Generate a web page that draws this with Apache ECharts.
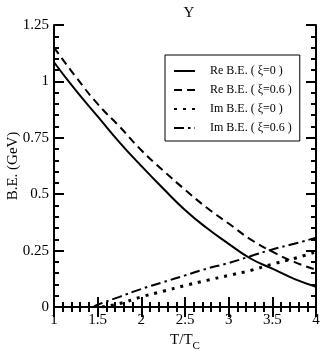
<!DOCTYPE html>
<html>
<head>
<meta charset="utf-8">
<script src="https://cdn.jsdelivr.net/npm/echarts@6/dist/echarts.min.js"></script>
<style>
  html, body { margin: 0; padding: 0; background: #fff; }
  #chart { width: 322px; height: 354px; }
</style>
</head>
<body>
<div id="chart"></div>
<script>
// --- DATA ---
const xTicks = [1, 1.5, 2, 2.5, 3, 3.5, 4];
const yTicks = [0, 0.25, 0.5, 0.75, 1, 1.25];

const reXi0 = [[1.0, 1.085], [1.25, 0.96], [1.5, 0.845], [1.75, 0.73], [2.0, 0.625], [2.25, 0.525],
  [2.5, 0.43], [2.75, 0.35], [3.0, 0.28], [3.25, 0.215], [3.5, 0.17], [3.75, 0.125], [4.0, 0.09]];
const reXi06 = [[1.0, 1.15], [1.25, 1.02], [1.5, 0.90], [1.75, 0.80], [2.0, 0.695], [2.25, 0.605],
  [2.5, 0.52], [2.75, 0.44], [3.0, 0.37], [3.25, 0.30], [3.5, 0.245], [3.75, 0.20], [4.0, 0.165]];
const imXi0 = [[1.55, 0.0], [1.75, 0.015], [2.0, 0.045], [2.25, 0.07], [2.5, 0.095], [2.75, 0.118],
  [3.0, 0.14], [3.25, 0.162], [3.5, 0.19], [3.75, 0.215], [4.0, 0.245]];
const imXi06 = [[1.45, 0.0], [1.5, 0.01], [1.75, 0.045], [2.0, 0.08], [2.25, 0.11], [2.5, 0.14],
  [2.75, 0.17], [3.0, 0.195], [3.25, 0.225], [3.5, 0.255], [3.75, 0.28], [4.0, 0.307]];

const seriesNames = ['Re B.E. ( ξ=0 )', 'Re B.E. ( ξ=0.6 )', 'Im B.E. ( ξ=0 )', 'Im B.E. ( ξ=0.6 )'];

// --- STYLE ---
const FONT = "'Liberation Serif', serif";
const INK = '#000';

const tickStyle = {
  axisLine: { lineStyle: { color: INK, width: 2 } },
  axisTick: { inside: true, length: 10, lineStyle: { color: INK, width: 2 } },
  minorTick: { show: true, splitNumber: 5, length: 5, lineStyle: { color: INK, width: 2 } },
  splitLine: { show: false }
};
const xCommon = Object.assign({ type: 'value', min: 1, max: 4, interval: 0.5 }, tickStyle);
const yCommon = Object.assign({ type: 'value', min: 0, max: 1.25, interval: 0.25 }, tickStyle);

const mkLine = (name, data, type, width, cap) => ({
  name: name,
  type: 'line',
  data: data,
  smooth: true,
  symbol: 'none',
  lineStyle: { color: INK, width: width || 2, type: type, cap: cap || 'butt' },
  itemStyle: { color: INK }
});

const chart = echarts.init(document.getElementById('chart'));
chart.setOption({
  animation: false,
  backgroundColor: '#fff',
  textStyle: { fontFamily: FONT },
  title: {
    text: 'Y',
    left: 184, top: 1,
    textAlign: 'center',
    textStyle: { fontFamily: FONT, fontSize: 15, fontWeight: 'normal', color: INK }
  },
  grid: { left: 54, right: 6, top: 25, bottom: 47, containLabel: false, outerBoundsMode: 'none' },
  legend: {
    left: 165, top: 55,
    orient: 'vertical',
    padding: [10, 8, 7, 8],
    itemWidth: 21, itemHeight: 12,
    itemGap: 7,
    backgroundColor: '#fff',
    borderColor: INK, borderWidth: 1,
    itemStyle: { opacity: 0 },
    textStyle: { fontFamily: FONT, fontSize: 12, color: INK, padding: [0, 0, 0, 10] },
    data: seriesNames
  },
  xAxis: [
    Object.assign({}, xCommon, {
      position: 'bottom',
      axisLabel: { color: INK, fontFamily: FONT, fontSize: 15, margin: 6 },
      name: 'T/T{s|C}',
      nameLocation: 'middle', nameGap: 22, nameMoveOverlap: false,
      nameTextStyle: { color: INK, fontFamily: FONT, fontSize: 15,
        rich: { s: { fontFamily: FONT, fontSize: 11, color: INK, padding: [12, 0, 0, 0] } } }
    }),
    Object.assign({}, xCommon, { position: 'top', axisLabel: { show: false } })
  ],
  yAxis: [
    Object.assign({}, yCommon, {
      position: 'left',
      axisLabel: { color: INK, fontFamily: FONT, fontSize: 15, margin: 5 },
      name: 'B.E. (GeV)',
      nameLocation: 'middle', nameGap: 33, nameRotate: 90, nameMoveOverlap: false,
      nameTextStyle: { color: INK, fontFamily: FONT, fontSize: 15 }
    }),
    Object.assign({}, yCommon, { position: 'right', axisLabel: { show: false } })
  ],
  series: [
    mkLine(seriesNames[0], reXi0, 'solid'),
    mkLine(seriesNames[1], reXi06, [8, 5]),
    mkLine(seriesNames[2], imXi0, [3, 6], 3),
    mkLine(seriesNames[3], imXi06, [10, 4, 2.5, 4])
  ]
});
</script>
</body>
</html>
